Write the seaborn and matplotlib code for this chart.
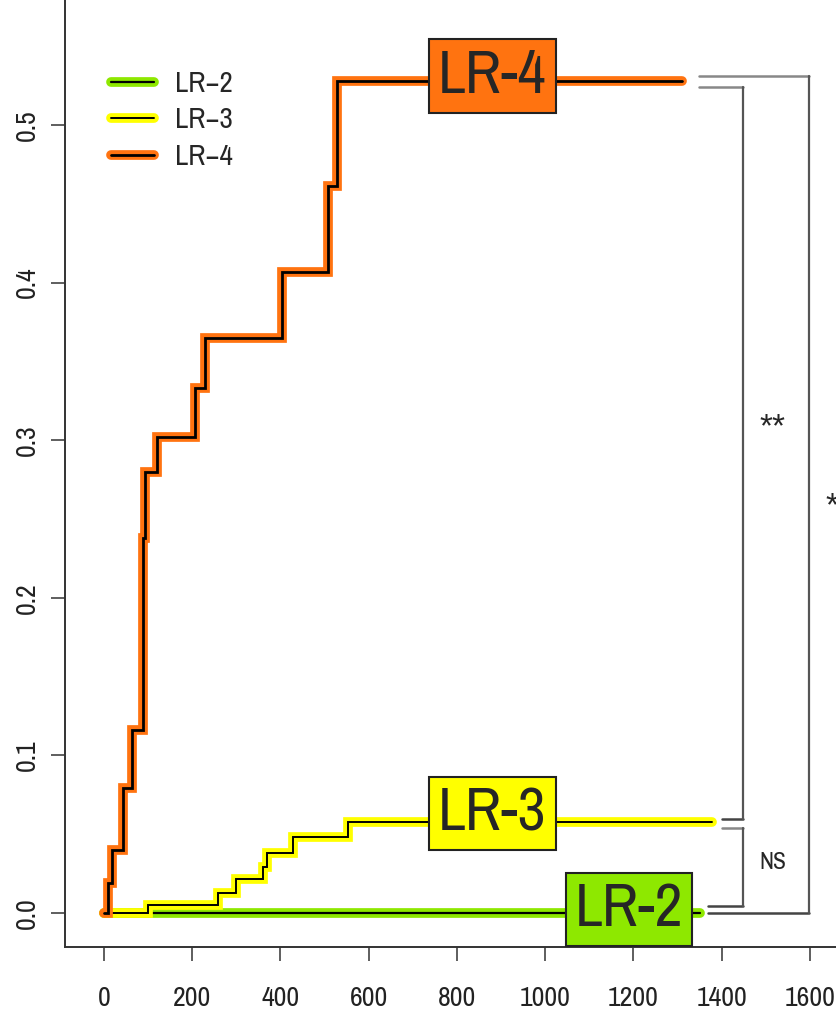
import matplotlib
matplotlib.use('Agg')
import matplotlib.pyplot as plt
import matplotlib.patheffects as pe
from matplotlib.lines import Line2D
import seaborn as sns
import pandas as pd

# Data (cumulative incidence)
lr2_time = [0, 1351]
lr2_cuminc = [0.0, 0.0]

lr3_time = [0, 100, 259, 299, 361, 369, 429, 553, 1379]
lr3_cuminc = [0.0, 0.005, 0.0127, 0.0215, 0.0294, 0.038, 0.0484, 0.058, 0.058]

lr4_time = [0, 10, 19, 44, 64, 89, 93, 119, 206, 229, 403, 508, 528, 1310]
lr4_cuminc = [0.0, 0.019, 0.040, 0.079, 0.116, 0.238, 0.280, 0.302, 0.333, 0.365, 0.407, 0.461, 0.528, 0.528]

groups = ['LR-2', 'LR-3', 'LR-4']
legend_labels = ['LR\u22122', 'LR\u22123', 'LR\u22124']
colors = {'LR-2': '#8EE800', 'LR-3': '#FFFF00', 'LR-4': '#FF7310'}
inner_lw = {'LR-2': 1.6, 'LR-3': 1.4, 'LR-4': 2.0}

# box labels: x position and small vertical nudge
box_x = {'LR-2': 1190, 'LR-3': 880, 'LR-4': 880}
box_dy = {'LR-2': 0.002, 'LR-3': 0.005, 'LR-4': 0.003}

# pairwise comparisons
comparisons = [('LR-4', 'LR-3', '**'), ('LR-3', 'LR-2', 'NS'), ('LR-4', 'LR-2', '*')]

x_ticks = [0, 200, 400, 600, 800, 1000, 1200, 1400, 1600]
y_ticks = [0.0, 0.1, 0.2, 0.3, 0.4, 0.5]

df = pd.concat([
    pd.DataFrame({'time': lr2_time, 'cuminc': lr2_cuminc, 'group': 'LR-2'}),
    pd.DataFrame({'time': lr3_time, 'cuminc': lr3_cuminc, 'group': 'LR-3'}),
    pd.DataFrame({'time': lr4_time, 'cuminc': lr4_cuminc, 'group': 'LR-4'}),
], ignore_index=True)

sns.set_theme(style='ticks')
plt.rcParams['font.family'] = ['Archivo Narrow', 'Liberation Sans', 'DejaVu Sans']

fig = plt.figure(figsize=(8.36, 10.18), dpi=100)
ax = fig.add_axes([65 / 836, 71 / 1018, 1 - 65 / 836, 947 / 1018])

for g in groups:
    sub = df[df['group'] == g]
    sns.lineplot(data=sub, x='time', y='cuminc', ax=ax, color='black',
                 lw=inner_lw[g], drawstyle='steps-post', estimator=None, sort=False,
                 path_effects=[pe.Stroke(linewidth=7, foreground=colors[g]), pe.Normal()],
                 solid_capstyle='round', solid_joinstyle='miter')

ax.set_xlim(-88.4, 1659)
ax.set_ylim(-0.0216, 0.5793)
ax.set_xticks(x_ticks)
ax.set_yticks(y_ticks)
ax.set_xticklabels([str(v) for v in x_ticks])
ax.set_yticklabels([f'{v:.1f}' for v in y_ticks], rotation=90, va='center')
ax.set_xlabel('')
ax.set_ylabel('')
for s in ['top', 'right']:
    ax.spines[s].set_visible(False)
for s in ['left', 'bottom']:
    ax.spines[s].set_color('#333333')
    ax.spines[s].set_linewidth(1.4)
ax.tick_params(axis='both', length=10, width=1.1, color='#333333', labelsize=20, labelcolor='#222222')
ax.tick_params(axis='x', pad=18)
ax.tick_params(axis='y', pad=8)

# legend
handles = [Line2D([0], [0], color='black', lw=inner_lw[g],
                  path_effects=[pe.Stroke(linewidth=7, foreground=colors[g], capstyle='round'), pe.Normal()])
           for g in groups]
ax.legend(handles, legend_labels, loc='upper left', bbox_to_anchor=(0.06, 0.926),
          frameon=False, fontsize=21, handlelength=1.45, handletextpad=0.75,
          labelspacing=0.32, borderaxespad=0, borderpad=0)

# end value of each curve
end_val = {'LR-2': lr2_cuminc[-1], 'LR-3': lr3_cuminc[-1], 'LR-4': lr4_cuminc[-1]}
end_x = {'LR-2': lr2_time[-1], 'LR-3': lr3_time[-1], 'LR-4': lr4_time[-1]}

for g in groups:
    ax.text(box_x[g], end_val[g] + box_dy[g], g, fontsize=44, ha='center', va='center', zorder=10,
            bbox=dict(boxstyle='square,pad=0.15', fc=colors[g], ec='#222222', lw=1.5))

# significance brackets
vert_x = {('LR-4', 'LR-3'): 1448, ('LR-3', 'LR-2'): 1448, ('LR-4', 'LR-2'): 1598}
for hi, lo, lab in comparisons:
    xv = vert_x[(hi, lo)]
    wide = xv > 1500
    y_hi = end_val[hi] + (0.003 if wide else -0.004)
    y_lo = end_val[lo] + (0.0 if wide else 0.0016)
    x_hi = end_x[hi] + 38 if hi == 'LR-4' else end_x[hi] + 21
    x_lo = end_x[lo] + 18 if lo == 'LR-2' else end_x[lo] + 21
    if lo == 'LR-2' and not wide:
        y_lo = 0.0044
    ax.plot([x_hi, xv], [y_hi, y_hi], color='#888888', lw=1.8, clip_on=False)
    ax.plot([x_lo, xv], [y_lo, y_lo], color='#444444', lw=1.8, clip_on=False)
    ax.plot([xv, xv], [y_hi, y_lo], color='#555555', lw=1.6, clip_on=False)
    if lab == 'NS':
        ax.text(xv + 68, (y_hi + y_lo) / 2 + 0.003, lab, fontsize=17, ha='center', va='center', clip_on=False)
    else:
        ax.text(xv + (68 if lab == '**' else 52), (y_hi + y_lo) / 2 + (0.016 if lab == '**' else -0.008), lab,
                fontsize=24, family=['Liberation Sans', 'DejaVu Sans'], ha='center', va='center', clip_on=False)

fig.savefig('out.png', dpi=100)
